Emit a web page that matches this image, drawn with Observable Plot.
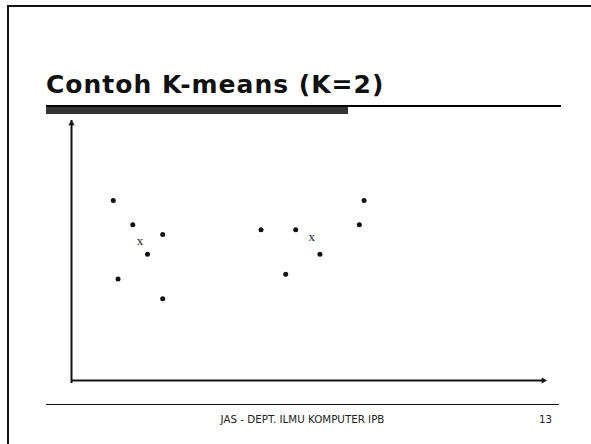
<!DOCTYPE html>
<html>
<head>
<meta charset="utf-8">
<script src="https://cdn.jsdelivr.net/npm/d3@7"></script>
<script src="https://cdn.jsdelivr.net/npm/@observablehq/plot@0.6"></script>
<style>
  html, body { margin: 0; padding: 0; background: #fff; }
  #slide { position: relative; width: 591px; height: 444px; overflow: hidden; background: #fff; }
  #slide > svg { position: absolute; left: 0; top: 0; }
  .deco { position: absolute; }
  .txt { position: absolute; white-space: nowrap; line-height: 1; }
</style>
</head>
<body>
<div id="slide"></div>
<script>
// ---- data (chart units: axis origin = 0, axis ends = 100) ----
const titleText = "Contoh K-means (K=2)";
const footerText = "JAS - DEPT. ILMU KOMPUTER IPB";
const pageNumber = "13";

const clusterA_x = [8.8, 12.9, 19.2, 16.0, 9.8, 19.2];
const clusterA_y = [69.2, 59.9, 56.2, 48.6, 39.0, 31.4];
const clusterB_x = [39.9, 47.2, 52.3, 45.1, 60.6, 61.6];
const clusterB_y = [58.0, 58.0, 48.6, 40.9, 59.9, 69.2];
const centroid_x = [14.4, 50.6];
const centroid_y = [53.2, 54.9];
const centroidLabel = "x";
const axisMin = 0;
const axisMax = 100;

const points = [
  ...clusterA_x.map((x, i) => ({x, y: clusterA_y[i], cluster: "A"})),
  ...clusterB_x.map((x, i) => ({x, y: clusterB_y[i], cluster: "B"}))
];
const centroids = centroid_x.map((x, i) => ({x, y: centroid_y[i], label: centroidLabel}));

const ink = "#141414";

const chart = Plot.plot({
  width: 591,
  height: 444,
  marginLeft: 71,
  marginRight: 45,
  marginTop: 120,
  marginBottom: 64,
  x: {domain: [axisMin, axisMax], axis: null},
  y: {domain: [axisMin, axisMax], axis: null},
  marks: [
    // y axis line with arrow head
    Plot.ruleX([axisMin], {y1: axisMin, y2: axisMax, stroke: ink, strokeWidth: 2, insetTop: 3}),
    Plot.dot([{x: axisMin, y: axisMax}], {x: "x", y: "y", symbol: "triangle", r: 2.3, fill: ink, stroke: "none", dy: 3}),
    // x axis line with arrow head
    Plot.ruleY([axisMin], {x1: axisMin, x2: axisMax, stroke: ink, strokeWidth: 2, insetRight: 3}),
    Plot.dot([{x: axisMax, y: axisMin}], {x: "x", y: "y", symbol: "triangle", r: 2.3, fill: ink, stroke: "none", rotate: 90, dx: -3}),
    // data points
    Plot.dot(points, {x: "x", y: "y", r: 2.5, fill: "#111", stroke: "none"}),
    // centroids
    Plot.text(centroids, {x: "x", y: "y", text: "label", fontFamily: "Liberation Serif", fontSize: 13, fill: "#222", dy: -1})
  ]
});

const slide = document.getElementById("slide");
slide.appendChild(chart);

function deco(left, top, width, height, color) {
  const d = document.createElement("div");
  d.className = "deco";
  Object.assign(d.style, {left: left + "px", top: top + "px", width: width + "px", height: height + "px", background: color});
  slide.appendChild(d);
}
function txt(content, styles) {
  const d = document.createElement("div");
  d.className = "txt";
  d.textContent = content;
  Object.assign(d.style, styles);
  slide.appendChild(d);
  return d;
}

// slide frame
deco(7, 5, 584, 2, "#111");
deco(7, 5, 2, 439, "#111");
// title underline + bar
deco(46, 105, 515, 1.5, "#000");
deco(46, 107, 302, 7, "#333");
// footer line
deco(46, 403.5, 513, 1.5, "#111");

// title
txt(titleText, {left: "46px", top: "72px", fontFamily: "DejaVu Sans", fontWeight: "bold", fontSize: "25px", letterSpacing: "1px", color: "#111"});
// footer text
const f = txt(footerText, {left: "302.5px", top: "414px", fontFamily: "DejaVu Sans", fontSize: "10.3px", color: "#222", transform: "translateX(-50%)"});
txt(pageNumber, {right: (591 - 552) + "px", top: "414px", fontFamily: "DejaVu Sans", fontSize: "10.3px", color: "#222"});
</script>
</body>
</html>
